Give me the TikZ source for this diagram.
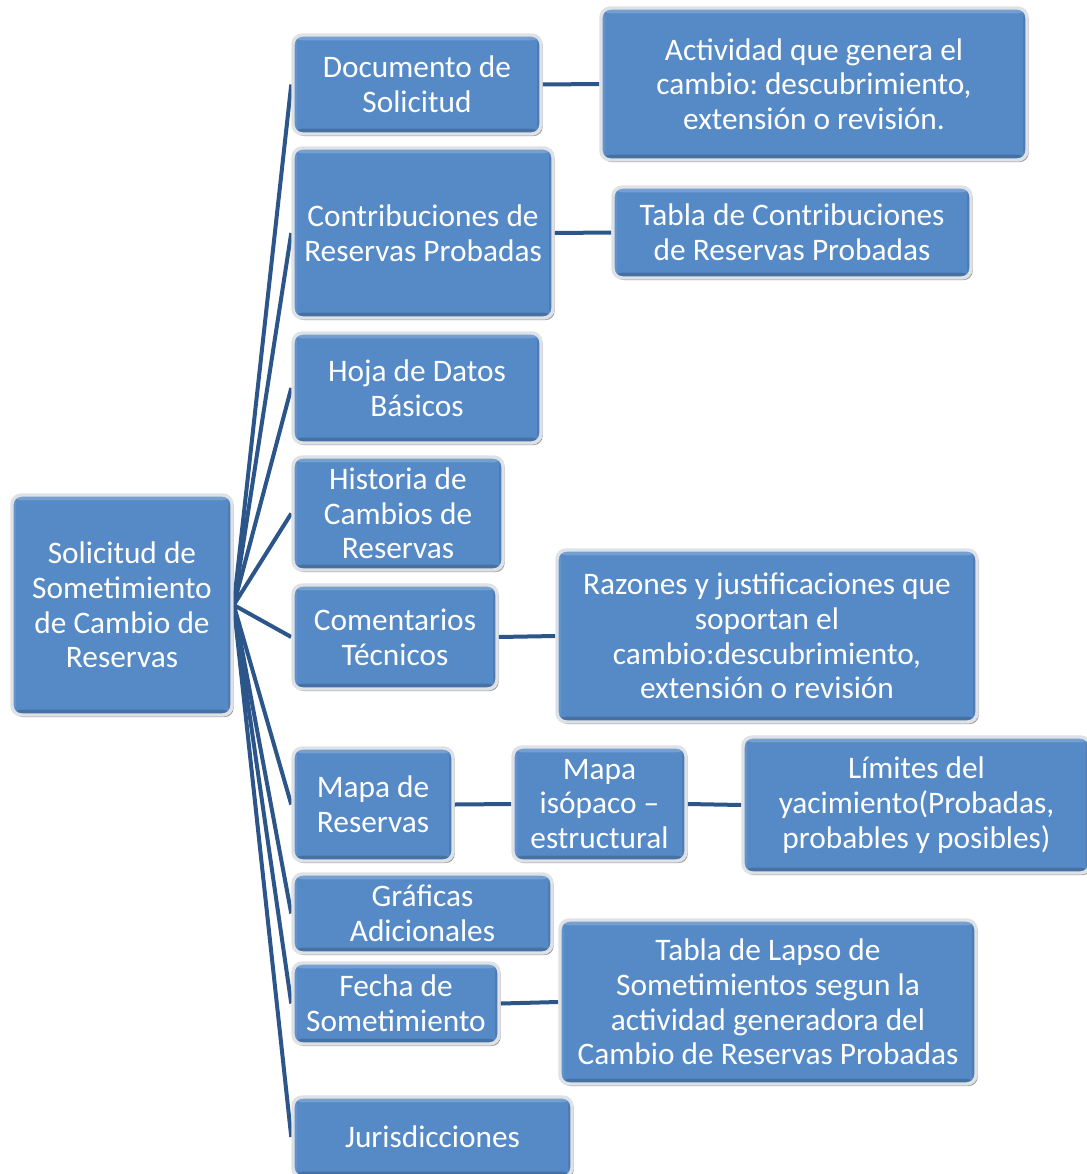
\documentclass[tikz,border=0pt]{standalone}
\usepackage{fontspec}
\setmainfont{Carlito}
\frenchspacing
\usetikzlibrary{shadows}
\definecolor{boxblue}{RGB}{86,138,199}
\definecolor{linkblue}{RGB}{44,86,138}
\definecolor{rimgray}{RGB}{222,225,230}
\pgfdeclarelayer{bg}
\pgfsetlayers{bg,main}
\tikzset{
  bx/.style 2 args={rectangle, rounded corners=7pt, fill=boxblue, draw=rimgray,
    line width=2.6pt, minimum width={#1*0.75pt}, minimum height={#2*0.75pt},
    inner sep=0pt, align=center, text=white,
    font=\fontsize{23.5}{26}\selectfont\frenchspacing,
    drop shadow={shadow xshift=1.3pt, shadow yshift=-1.6pt, opacity=0.4, fill=black},
    path picture={
      \fill[white,opacity=0.18] (path picture bounding box.north west) rectangle ([yshift=-4pt]path picture bounding box.north east);
      \fill[black,opacity=0.18] (path picture bounding box.south west) rectangle ([yshift=4pt]path picture bounding box.south east);
      \fill[black,opacity=0.10] (path picture bounding box.south east) rectangle ([xshift=-3pt]path picture bounding box.north east);
      \fill[white,opacity=0.08] (path picture bounding box.south west) rectangle ([xshift=3pt]path picture bounding box.north west);
    }},
  link/.style={draw=linkblue, line width=3pt}
}
\begin{document}
\begin{tikzpicture}[x=0.75pt,y=-0.75pt]
\useasboundingbox (0,0) rectangle (1086,1174);
\node[bx={220}{220}] (root) at (122,605) {Solicitud de\\Sometimiento\\de Cambio de\\Reservas};
\node[bx={248}{99}] (doc) at (417,84.5) {Documento de\\Solicitud};
\node[bx={426}{152}] (act) at (814,84) {Actividad que genera el\\cambio: descubrimiento,\\extensión o revisión.};
\node[bx={260}{170}] (contrib) at (423,233) {Contribuciones de\\Reservas Probadas};
\node[bx={358}{91}] (tabla) at (792,232.5) {Tabla de Contribuciones\\de Reservas Probadas};
\node[bx={248}{110}] (hoja) at (417,388) {Hoja de Datos\\Básicos};
\node[bx={210}{113}] (hist) at (398,513.5) {Historia de\\Cambios de\\Reservas};
\node[bx={204}{104}] (coment) at (395,637) {Comentarios\\Técnicos};
\node[bx={420}{172}] (razon) at (767,636) {Razones y justificaciones que\\soportan el\\cambio:descubrimiento,\\extensión o revisión};
\node[bx={160}{113}] (mapa) at (373,804.5) {Mapa de\\Reservas};
\node[bx={173}{114}] (isop) at (599.5,804) {Mapa\\isópaco –\\estructural};
\node[bx={347}{136}] (lim) at (916.5,805) {Límites del\\yacimiento(Probadas,\\probables y posibles)};
\node[bx={259}{79}] (graf) at (422.5,913.5) {Gráficas\\Adicionales};
\node[bx={206}{81}] (fecha) at (396,1003.5) {Fecha de\\Sometimiento};
\node[bx={416}{164}] (lapso) at (768,1002) {Tabla de Lapso de\\Sometimientos segun la\\actividad generadora del\\Cambio de Reservas Probadas};
\node[bx={279}{80}] (juris) at (432.5,1137) {Jurisdicciones};
\begin{pgfonlayer}{bg}
\foreach \c in {doc,contrib,hoja,hist,coment,mapa,graf,fecha,juris}
  \draw[link] (root.east) -- (\c.west);
\draw[link] (doc.east) -- (act.west);
\draw[link] (contrib.east) -- (tabla.west);
\draw[link] (coment.east) -- (razon.west);
\draw[link] (mapa.east) -- (isop.west);
\draw[link] (isop.east) -- (lim.west);
\draw[link] (fecha.east) -- (lapso.west);
\end{pgfonlayer}
\end{tikzpicture}
\end{document}
